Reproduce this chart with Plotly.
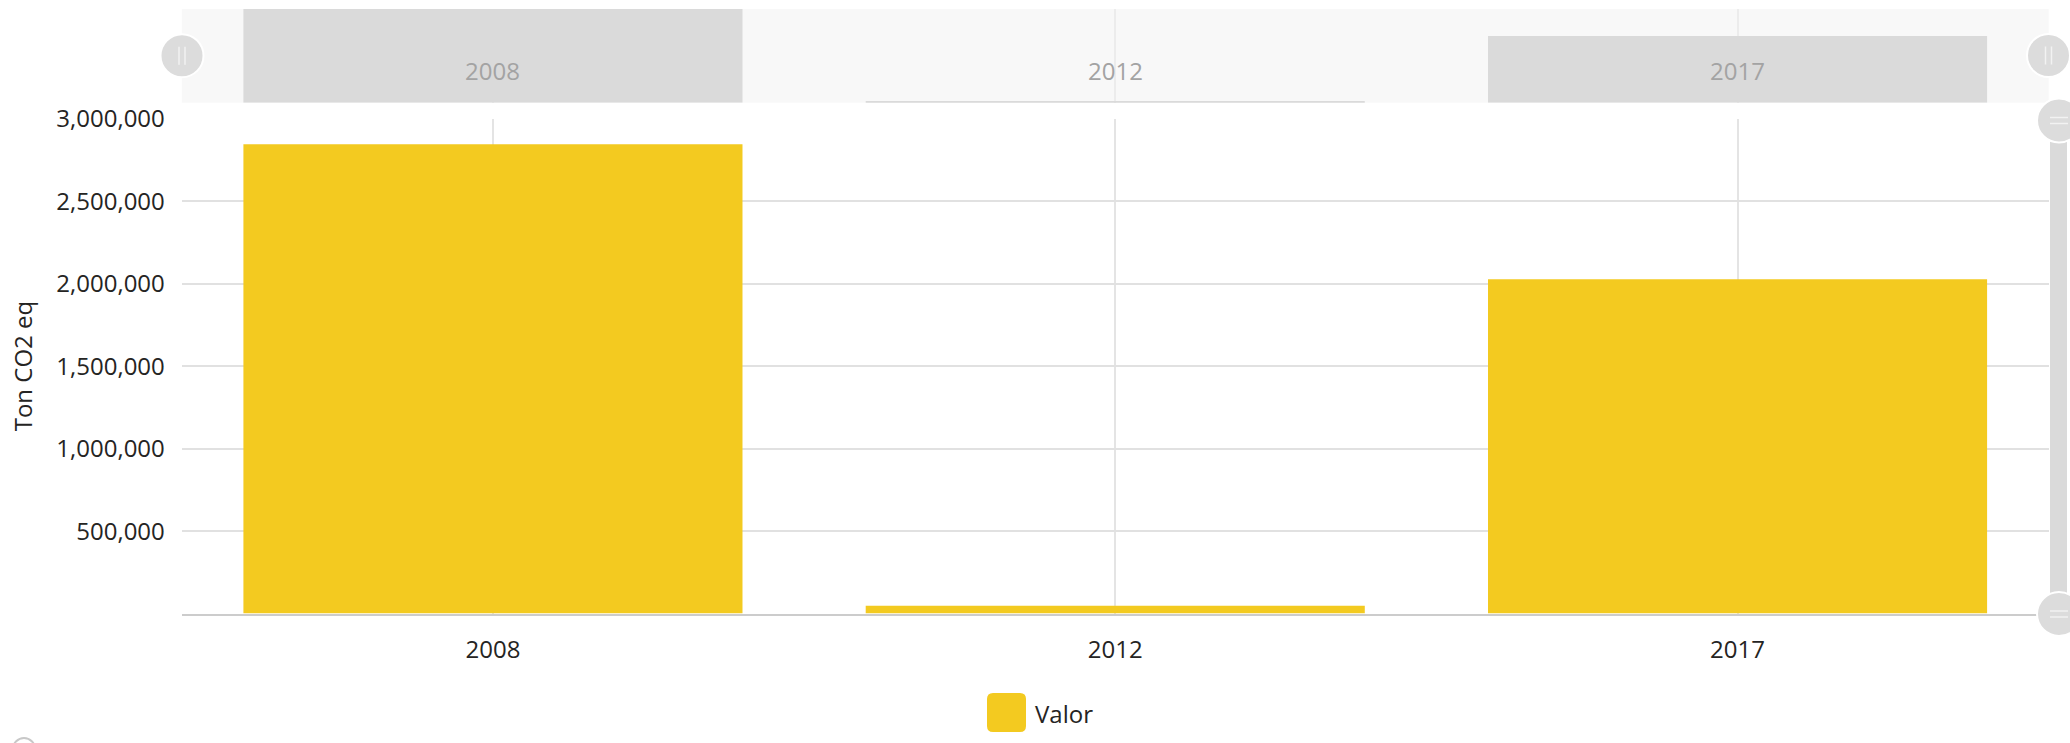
import plotly.graph_objects as go

# ---------------- data ----------------
categories = ["2008", "2012", "2017"]
valor = [2845000, 47000, 2026000]
y_ticks = [500000, 1000000, 1500000, 2000000, 2500000, 3000000]
series_name = "Valor"
y_title = "Ton CO2 eq"

# ---------------- layout constants ----------------
W, H = 2070, 743
FONT = "Open Sans, Noto Sans, sans-serif"
YELLOW = "#F3CA20"
TEXT = "#252423"


def px(x):
    return x / W


def py(y):
    return 1 - y / H


x_dom = [px(181.8), px(2048.7)]
main_y_dom = [py(613.6), py(118.6)]
nav_y_dom = [py(102.7), py(9)]

fig = go.Figure()

# main bars
fig.add_trace(go.Bar(
    x=categories, y=valor, name=series_name,
    marker=dict(color=YELLOW, line=dict(width=0)),
    xaxis="x", yaxis="y", showlegend=False,
))

# navigator preview bars
fig.add_trace(go.Bar(
    x=categories, y=valor, name=series_name,
    marker=dict(color="#dadada", line=dict(width=0)),
    xaxis="x2", yaxis="y2", showlegend=False, hoverinfo="skip",
))

shapes = []
# navigator background
shapes.append(dict(type="rect", xref="paper", yref="paper",
                   x0=x_dom[0], x1=x_dom[1], y0=nav_y_dom[0], y1=nav_y_dom[1],
                   fillcolor="#f8f8f8", line=dict(width=0), layer="below"))

# vertical scrollbar track
shapes.append(dict(type="rect", xref="paper", yref="paper",
                   x0=px(2050), x1=px(2067), y0=py(614), y1=py(120),
                   fillcolor="#dadada", line=dict(width=0)))


def handle(cx, cy, r, vertical_grip):
    out = [dict(type="circle", xref="paper", yref="paper",
                x0=px(cx - r), x1=px(cx + r), y0=py(cy + r), y1=py(cy - r),
                fillcolor="#dcdcdc", line=dict(color="white", width=2))]
    if vertical_grip:
        for dx in (-3, 3):
            out.append(dict(type="line", xref="paper", yref="paper",
                            x0=px(cx + dx), x1=px(cx + dx),
                            y0=py(cy - 9), y1=py(cy + 9),
                            line=dict(color="#f2f2f2", width=1.5)))
    else:
        for dy in (-3, 3):
            out.append(dict(type="line", xref="paper", yref="paper",
                            x0=px(cx - 9), x1=px(cx + 9),
                            y0=py(cy + dy), y1=py(cy + dy),
                            line=dict(color="#f2f2f2", width=1.5)))
    return out


shapes += handle(182, 55.7, 21.5, True)
shapes += handle(2048.5, 55.5, 21.5, True)
shapes += handle(2059, 120.5, 22, False)
shapes += handle(2059, 614, 22, False)

# legend marker (rounded square)
lx0, lx1, ly0, ly1, rr = 987, 1026, 693, 732, 6
path = (f"M {px(lx0 + rr)},{py(ly0)} L {px(lx1 - rr)},{py(ly0)} "
        f"Q {px(lx1)},{py(ly0)} {px(lx1)},{py(ly0 + rr)} "
        f"L {px(lx1)},{py(ly1 - rr)} Q {px(lx1)},{py(ly1)} {px(lx1 - rr)},{py(ly1)} "
        f"L {px(lx0 + rr)},{py(ly1)} Q {px(lx0)},{py(ly1)} {px(lx0)},{py(ly1 - rr)} "
        f"L {px(lx0)},{py(ly0 + rr)} Q {px(lx0)},{py(ly0)} {px(lx0 + rr)},{py(ly0)} Z")
shapes.append(dict(type="path", xref="paper", yref="paper", path=path,
                   fillcolor=YELLOW, line=dict(width=0)))

# partial icon at bottom-left
shapes.append(dict(type="circle", xref="paper", yref="paper",
                   x0=px(13), x1=px(35), y0=py(760), y1=py(738),
                   line=dict(color="#c8c8c8", width=2)))

annotations = []
for i, c in enumerate(categories):
    annotations.append(dict(x=i, xref="x2", y=py(70), yref="paper",
                            text=c, showarrow=False,
                            xanchor="center", yanchor="middle",
                            font=dict(family=FONT, size=24, color="#a3a3a3")))
annotations.append(dict(x=px(1033), xref="paper", y=py(713), yref="paper",
                        text=series_name, showarrow=False, xanchor="left",
                        yanchor="middle",
                        font=dict(family=FONT, size=24, color=TEXT)))

fig.update_layout(
    width=W, height=H, autosize=False,
    margin=dict(l=0, r=0, t=0, b=0, autoexpand=False),
    paper_bgcolor="white", plot_bgcolor="rgba(0,0,0,0)",
    bargap=0.198,
    showlegend=False,
    font=dict(family=FONT, size=24, color=TEXT),
    shapes=shapes,
    annotations=annotations,
    xaxis=dict(
        domain=x_dom, anchor="y", type="category",
        categoryorder="array", categoryarray=categories,
        range=[-0.5, 2.5], automargin=False,
        showgrid=True, gridcolor="#e4e4e4", gridwidth=1.5,
        showline=True, linecolor="rgba(0,0,0,0.2)", linewidth=2,
        ticks="", ticklabelstandoff=14,
        tickfont=dict(family=FONT, size=24, color=TEXT),
    ),
    yaxis=dict(
        domain=main_y_dom, anchor="x", automargin=False,
        range=[0, 3000000],
        tickvals=y_ticks, tickformat=",",
        showgrid=True, gridcolor="#e1e1e1", gridwidth=2,
        zeroline=False, showline=False,
        ticks="", ticklabelstandoff=16,
        tickfont=dict(family=FONT, size=24, color=TEXT),
        title=dict(text=y_title, standoff=16,
                   font=dict(family=FONT, size=24, color=TEXT)),
    ),
    xaxis2=dict(
        domain=x_dom, anchor="y2", type="category",
        categoryorder="array", categoryarray=categories,
        range=[-0.5, 2.5], automargin=False,
        showgrid=True, gridcolor="#ececec", gridwidth=1.5,
        showticklabels=False, ticks="", showline=False, zeroline=False,
    ),
    yaxis2=dict(
        domain=nav_y_dom, anchor="x2", automargin=False,
        range=[0, max(valor)],
        showticklabels=False, showgrid=False, zeroline=False,
        showline=False, ticks="",
    ),
)

fig.write_html("out.html")
